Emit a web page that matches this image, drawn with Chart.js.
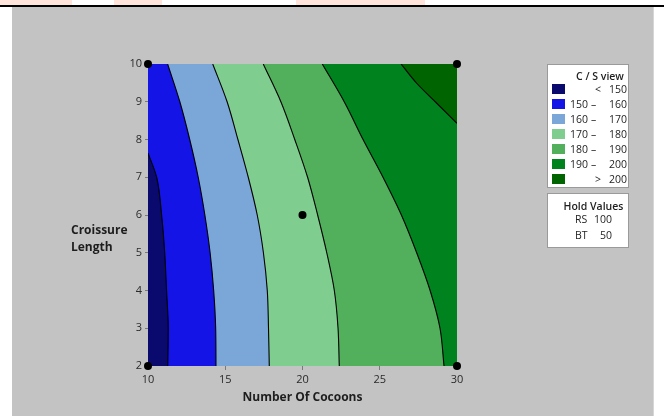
<!DOCTYPE html>
<html>
<head>
<meta charset="utf-8">
<script src="https://cdn.jsdelivr.net/npm/chart.js@4.4.1/dist/chart.umd.min.js"></script>
<style>
  html, body { margin: 0; padding: 0; width: 664px; height: 416px; overflow: hidden; background: #fff; font-family: "Open Sans", sans-serif; }
  .tint { position: absolute; top: 0; height: 5px; background: #ffe4dc; }
  #rule { position: absolute; left: 0; top: 5px; width: 664px; height: 2px; background: #000; }
  #panel { position: absolute; left: 12px; top: 7px; width: 641px; height: 409px; background: #c3c3c3; border-right: 1px solid #d6d6d6; }
  #cv { position: absolute; left: 0; top: 0; }
  #ytitle { position: absolute; left: 59px; top: 214px; font-weight: 700; font-size: 12px; line-height: 17px; color: #1e1e1e; }
  .box { position: absolute; left: 535px; width: 82px; background: #fff; border: 1px solid #9a9a9a; box-sizing: border-box; font-size: 10.5px; color: #1e1e1e; }
  .box span { position: absolute; white-space: nowrap; line-height: 14px; }
  .sw { position: absolute; left: 4px; width: 13px; height: 10px; }
</style>
</head>
<body>
<div class="tint" style="left:0;width:72px"></div>
<div class="tint" style="left:114px;width:48px"></div>
<div class="tint" style="left:296px;width:129px"></div>
<div id="rule"></div>
<div id="panel">
  <canvas id="cv" width="641" height="409"></canvas>
  <div id="ytitle">Croissure<br>Length</div>
  <div class="box" id="legend" style="top:57px;height:124px"></div>
  <div class="box" id="hold" style="top:186px;height:55px"></div>
</div>
<script>
// Response: C / S view over Number Of Cocoons (x) and Croissure Length (y)
const levels = [150, 160, 170, 180, 190, 200];
const bandColors = ['#0a0a6e', '#1414e6', '#7ba6d8', '#80ce8f', '#52b05c', '#00821e', '#006400'];

// Contour lines, x position (cocoons) at each croissure length
const croissure = [2, 3, 4, 5, 6, 7, 8, 9, 10];
const c150Y = [2, 3, 4, 5, 6, 7, 7.64];
const c150X = [11.28, 11.31, 11.20, 11.08, 10.88, 10.56, 10.00];
const c160X = [14.40, 14.38, 14.25, 14.02, 13.68, 13.25, 12.70, 12.06, 11.27];
const c170X = [17.85, 17.80, 17.72, 17.47, 17.07, 16.49, 15.82, 15.12, 14.19];
const c180X = [22.38, 22.30, 22.06, 21.57, 20.98, 20.33, 19.50, 18.60, 17.46];
const c190X = [29.16, 28.90, 28.26, 27.39, 26.40, 25.21, 23.92, 22.70, 21.28];
const c200Y = [8.43, 8.96, 9.49, 10];
const c200X = [30.00, 28.69, 27.39, 26.38];

// Design points and hold values
const designX = [10, 10, 30, 30, 20];
const designY = [2, 10, 2, 10, 6];
const holdNames = ['RS', 'BT'];
const holdValues = [100, 50];

const xMin = 10, xMax = 30, yMin = 2, yMax = 10;

const pts = (xs, ys) => xs.map((x, i) => ({ x, y: ys[i] }));

function contour(xs, ys, color, toX, order) {
  return {
    data: pts(xs, ys),
    showLine: true,
    fill: { value: toX },
    backgroundColor: color,
    borderColor: '#000',
    borderWidth: 1.1,
    pointRadius: 0,
    cubicInterpolationMode: 'monotone',
    order
  };
}

const datasets = [
  {
    data: pts(designX, designY),
    pointRadius: 4,
    pointBackgroundColor: '#000',
    pointBorderWidth: 0,
    showLine: false,
    clip: false,
    order: 1
  },
  contour(c150X, c150Y, bandColors[0], xMin, 2),
  contour(c160X, croissure, bandColors[1], xMin, 3),
  contour(c170X, croissure, bandColors[2], xMin, 4),
  contour(c180X, croissure, bandColors[3], xMin, 5),
  contour(c190X, croissure, bandColors[4], xMin, 6),
  contour(c200X, c200Y, bandColors[6], xMax, 7),
  {
    data: pts([xMax, xMax], [yMin, yMax]),
    showLine: true,
    fill: { value: xMin },
    backgroundColor: bandColors[5],
    borderWidth: 0,
    pointRadius: 0,
    order: 8
  }
];

const tickFont = { family: 'Open Sans', size: 11 };

new Chart(document.getElementById('cv'), {
  type: 'scatter',
  data: { datasets },
  options: {
    responsive: false,
    animation: false,
    events: [],
    indexAxis: 'y',
    layout: { padding: { left: 0, top: 57, right: 196, bottom: 0 } },
    plugins: { legend: { display: false }, tooltip: { enabled: false } },
    scales: {
      x: {
        type: 'linear', min: xMin, max: xMax,
        ticks: { stepSize: 5, color: '#2a2a2a', font: tickFont, padding: 3 },
        grid: { drawOnChartArea: false, tickLength: 4, color: '#7a7a7a' },
        border: { display: false },
        title: {
          display: true, text: 'Number Of Cocoons', color: '#1e1e1e',
          font: { family: 'Open Sans', size: 12, weight: 'bold' },
          padding: { top: 0, bottom: 11 }
        },
        afterFit(s) { s.height = 50; }
      },
      y: {
        type: 'linear', min: yMin, max: yMax,
        ticks: { stepSize: 1, color: '#2a2a2a', font: tickFont, padding: 3 },
        grid: { drawOnChartArea: false, tickLength: 3, color: '#7a7a7a' },
        border: { display: false },
        afterFit(s) { s.width = 136; }
      }
    }
  }
});

// Legend for the contour bands
const legend = document.getElementById('legend');
function addSpan(parent, text, css) {
  const s = document.createElement('span');
  s.textContent = text;
  s.style.cssText = css;
  parent.appendChild(s);
}
addSpan(legend, 'C / S view', 'left:0;width:104px;text-align:center;top:4px;font-weight:600');
bandColors.forEach((c, i) => {
  const top = 19 + i * 15;
  const sw = document.createElement('div');
  sw.className = 'sw';
  sw.style.top = top + 'px';
  sw.style.background = c;
  legend.appendChild(sw);
  const ty = top - 2;
  if (i === 0) {
    addSpan(legend, '<', `left:47px;top:${ty}px`);
    addSpan(legend, String(levels[0]), `right:1px;top:${ty}px`);
  } else if (i === bandColors.length - 1) {
    addSpan(legend, '>', `left:47px;top:${ty}px`);
    addSpan(legend, String(levels[levels.length - 1]), `right:1px;top:${ty}px`);
  } else {
    addSpan(legend, String(levels[i - 1]), `right:40px;top:${ty}px`);
    addSpan(legend, '–', `left:43px;top:${ty}px`);
    addSpan(legend, String(levels[i]), `right:1px;top:${ty}px`);
  }
});

// Hold values box
const hold = document.getElementById('hold');
addSpan(hold, 'Hold Values', 'left:0;width:91px;text-align:center;top:5px;font-weight:600');
holdNames.forEach((n, i) => {
  const ty = 18 + i * 16;
  addSpan(hold, n, `left:27px;top:${ty}px`);
  addSpan(hold, String(holdValues[i]), `right:16px;top:${ty}px`);
});
</script>
</body>
</html>
